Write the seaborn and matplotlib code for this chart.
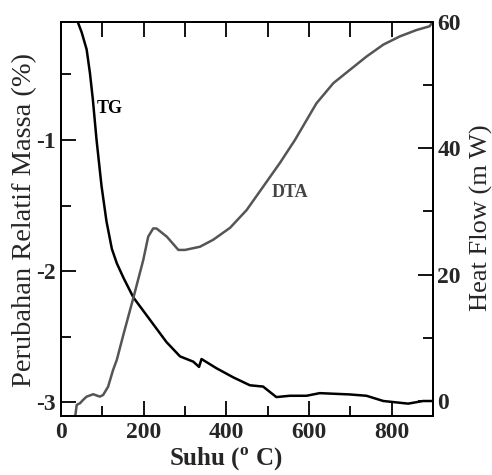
import matplotlib
matplotlib.use("Agg")
import matplotlib.pyplot as plt
import seaborn as sns
import pandas as pd
from matplotlib.ticker import MultipleLocator

# data
tg_temp = [38, 50, 62, 70, 77, 86, 98, 110, 123, 135, 151, 175, 215, 255, 288,
           320, 334, 340, 376, 417, 457, 489, 521, 554, 594, 626, 699, 739,
           780, 840, 876, 900]
tg_mass = [-0.08, -0.18, -0.31, -0.49, -0.69, -1.0, -1.35, -1.62, -1.83, -1.94,
           -2.05, -2.2, -2.37, -2.54, -2.65, -2.69, -2.73, -2.67, -2.74, -2.81,
           -2.87, -2.88, -2.96, -2.95, -2.95, -2.93, -2.94, -2.95, -2.99,
           -3.01, -2.99, -2.99]

dta_temp = [34, 38, 46, 54, 62, 78, 94, 102, 114, 126, 135, 151, 175, 199,
            211, 223, 231, 256, 284, 300, 336, 368, 409, 449, 489, 530, 566,
            618, 659, 699, 739, 780, 820, 860, 892, 899]
dta_heat = [-2.6, -0.63, -0.36, 0.2, 0.68, 1.06, 0.68, 0.95, 2.26, 4.9, 6.5,
            10.5, 16.3, 22.3, 26.0, 27.3, 27.3, 26.0, 23.9, 23.9, 24.4, 25.5,
            27.4, 30.2, 33.9, 37.7, 41.3, 47.1, 50.3, 52.4, 54.5, 56.4, 57.7,
            58.7, 59.3, 60.0]

tg_df = pd.DataFrame({"Suhu": tg_temp, "TG": tg_mass})
dta_df = pd.DataFrame({"Suhu": dta_temp, "DTA": dta_heat})

sns.set_style("ticks", {"xtick.direction": "in", "ytick.direction": "in"})
plt.rcParams['font.family'] = ['Liberation Serif', 'DejaVu Serif']
plt.rcParams['mathtext.fontset'] = 'custom'
plt.rcParams['mathtext.rm'] = 'Liberation Serif'
plt.rcParams['mathtext.bf'] = 'Liberation Serif:bold'
plt.rcParams['axes.unicode_minus'] = False

fig = plt.figure(figsize=(4.92, 4.75), dpi=100)
ax = fig.add_axes([0.124, 0.124, 0.756, 0.830])
ax2 = ax.twinx()
ax3 = ax.twiny()   # only for the top ticks (every 100, same length)

sns.lineplot(data=tg_df, x="Suhu", y="TG", ax=ax, color="black", lw=1.8,
             sort=False)
sns.lineplot(data=dta_df, x="Suhu", y="DTA", ax=ax2, color="#555555", lw=1.8,
             sort=False)

ax.set_xlim(0, 900)
ax3.set_xlim(0, 900)
ax.set_ylim(-3.105, -0.1)
ax2.set_ylim(-2.4, 60)

ax.xaxis.set_major_locator(MultipleLocator(200))
ax.xaxis.set_minor_locator(MultipleLocator(100))
ax.yaxis.set_major_locator(MultipleLocator(1))
ax.yaxis.set_minor_locator(MultipleLocator(0.5))
ax2.yaxis.set_major_locator(MultipleLocator(20))
ax2.yaxis.set_minor_locator(MultipleLocator(10))
ax3.xaxis.set_major_locator(MultipleLocator(100))

for a in (ax, ax2, ax3):
    a.tick_params(which="major", length=11, width=1.3, color="black")
    a.tick_params(which="minor", length=7, width=1.3, color="black")
    for s in a.spines.values():
        s.set_linewidth(1.4)
        s.set_color("black")
ax.tick_params(which="major", labelsize=17, pad=4)
ax2.tick_params(which="major", labelsize=17, pad=3)
ax3.tick_params(which="both", labeltop=False, labelbottom=False, bottom=False)
ax3.set_xlabel("")

for lab in ax.get_xticklabels() + ax.get_yticklabels() + ax2.get_yticklabels():
    lab.set_fontweight("bold")

ax.set_xlabel(r"Suhu ($^{\mathbf{o}}$ C)", fontsize=18, fontweight="bold")
ax.xaxis.set_label_coords(0.443, -0.076)
ax.set_ylabel("Perubahan Relatif Massa (%)", fontsize=20.5)
ax.yaxis.set_label_coords(-0.065, 0.497)
ax2.set_ylabel("Heat Flow (m W)", fontsize=19)
ax2.yaxis.set_label_coords(1.1, 0.504)

ax.text(87, -0.76, "TG", fontsize=13, fontweight="bold", color="black",
        va="center", ha="left")
ax.text(510, -1.40, "DTA", fontsize=13, fontweight="bold", color="#444444",
        va="center", ha="left")

fig.savefig("out.png", dpi=100)
